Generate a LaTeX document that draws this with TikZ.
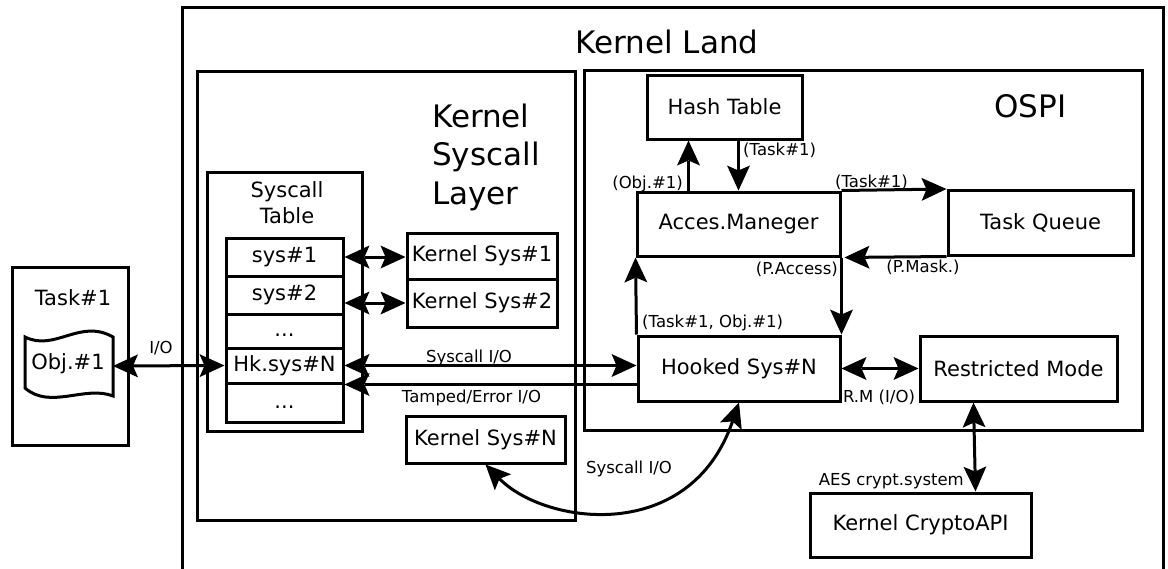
\documentclass[tikz,border=0pt]{standalone}
\usepackage{fontspec}
\setmainfont{DejaVu Sans}
\usetikzlibrary{arrows.meta}
\tikzset{
  bx/.style={draw, line width=3pt, inner sep=0pt, font=\fontsize{21}{25}\selectfont},
  lbl/.style={inner sep=0pt, font=\fontsize{16.5}{20}\selectfont},
  big/.style={inner sep=0pt, font=\fontsize{31}{37}\selectfont},
  mid/.style={inner sep=0pt, font=\fontsize{21}{25}\selectfont},
  arr/.style={line width=3pt, -{Stealth[length=25pt,width=23pt,inset=5pt,line width=0pt]}},
  dbl/.style={line width=3pt, {Stealth[length=25pt,width=23pt,inset=5pt,line width=0pt]}-{Stealth[length=25pt,width=23pt,inset=5pt,line width=0pt]}},
}
\begin{document}
\begin{tikzpicture}[x=1pt,y=-1pt]
\path[fill=white,use as bounding box] (0,0) rectangle (1168,568);

% Kernel Land outer frame
\draw[line width=3pt] (182,580) -- (182,7) -- (1163,7) -- (1163,580);
\node[big,anchor=base] (kl) at (667,53) {Kernel Land};

% Task#1
\node[bx, minimum width=116pt, minimum height=178pt] (tk) at (70,356) {};
\node[mid,anchor=base] (tkl) at (73,305) {Task\#1};
\draw[line width=3pt] (25,337) .. controls (55,352) and (80,318) .. (113,337)
  -- (113,396) .. controls (85,385) and (50,410) .. (25,388) -- cycle;
\node[mid] (obj) at (68,364) {Obj.\#1};
\coordinate (objE) at (113,366);

% Kernel Syscall Layer
\node[bx, minimum width=378pt, minimum height=449pt] (layer) at (386,295.5) {};
\node[big,anchor=base west] (lay1) at (432,127) {Kernel};
\node[big,anchor=base west] (lay2) at (432,165.5) {Syscall};
\node[big,anchor=base west] (lay3) at (432,204) {Layer};

% Syscall table
\node[bx, minimum width=155pt, minimum height=259pt] (table) at (284.5,301.5) {};
\node[mid,anchor=base] (tab1) at (287,197) {Syscall};
\node[mid,anchor=base] (tab2) at (287,223) {Table};
\node[bx, minimum width=117pt, minimum height=38pt] (c1) at (284.5,257) {sys\#1};
\node[bx, minimum width=117pt, minimum height=38pt] (c2) at (284.5,295) {sys\#2};
\node[bx, minimum width=117pt, minimum height=34pt] (c3) at (284.5,331) {\vphantom{s}...};
\node[bx, minimum width=117pt, minimum height=35pt] (hk) at (284.5,365.5) {Hk.sys\#N};
\node[bx, minimum width=117pt, minimum height=39pt] (c5) at (284.5,402.5) {\vphantom{s}...};

\node[bx, minimum width=150pt, minimum height=46pt] (ks1) at (482,256) {Kernel Sys\#1};
\node[bx, minimum width=150pt, minimum height=48pt] (ks2) at (482,303) {Kernel Sys\#2};
\node[bx, minimum width=159pt, minimum height=47pt] (ksn) at (485.5,439.5) {Kernel Sys\#N};

% OSPI
\node[bx, minimum width=558pt, minimum height=360pt] (ospi) at (863,250) {};
\node[big,anchor=base] (ospil) at (1030.5,117) {OSPI};
\node[bx, minimum width=155pt, minimum height=64pt] (ht) at (724.5,107) {Hash Table};
\node[bx, minimum width=203pt, minimum height=64pt] (am) at (738.5,224) {Acces.Maneger};
\node[bx, minimum width=185pt, minimum height=64.5pt] (tq) at (1040.5,222.75) {Task Queue};
\node[bx, minimum width=202pt, minimum height=65pt] (hs) at (739,368.5) {Hooked Sys\#N};
\node[bx, minimum width=197pt, minimum height=65pt] (rm) at (1018.5,368.5) {Restricted Mode};
\node[bx, minimum width=221pt, minimum height=64pt] (cr) at (920.5,525) {Kernel CryptoAPI};

% connectors
\draw[dbl] (objE) -- (hk.west);
\node[lbl,anchor=base] (lio) at (161,353) {I/O};
\draw[dbl] (c1.east) -- (c1.east -| ks1.west);
\draw[dbl] (ks2.west -| c2.east) -- (ks2.west);
\draw[dbl] (hk.east) -- (hk.east -| hs.west);
\node[lbl,anchor=base] (lsio) at (469,362) {Syscall I/O};
\draw[arr] (hk.south east -| hs.west) -- (hk.south east);
\node[lbl,anchor=base] (lte) at (471.5,402) {Tamped/Error I/O};
\draw[dbl] (ksn.south) .. controls (545,525) and (690,545) .. (hs.south);
\node[lbl,anchor=base] (lsio2) at (629,473) {Syscall I/O};

\draw[arr] ([xshift=-50pt]am.north) -- ([xshift=-50pt]am.north |- ht.south);
\node[lbl,anchor=base east] (lobj) at (683,188) {(Obj.\#1)};
\draw[arr] (ht.south -| am.north) -- (am.north);
\node[lbl,anchor=base west] (lt1) at (743,155) {(Task\#1)};
\draw[arr] (am.north east) -- (tq.north west);
\node[lbl,anchor=base] (lt2) at (871.5,187) {(Task\#1)};
\draw[arr, shorten >=3pt] (tq.south west) -- (am.south east);
\node[lbl,anchor=base] (lpm) at (923,272) {(P.Mask.)};
\node[lbl,anchor=base east] (lpa) at (838,274) {(P.Access)};
\draw[arr] (am.south east) -- (hs.north east);
\draw[arr] (hs.north west) -- (am.south west);
\node[lbl,anchor=base west] (lto) at (642,327) {(Task\#1, Obj.\#1)};
\draw[dbl] (hs.east) -- (rm.west);
\node[lbl,anchor=base] (lrm) at (879,402) {R.M (I/O)};
\draw[dbl] ([xshift=-45pt]rm.south) -- ([xshift=55pt]cr.north);
\node[lbl,anchor=base east] (laes) at (964,485) {AES crypt.system};
\end{tikzpicture}
\end{document}
